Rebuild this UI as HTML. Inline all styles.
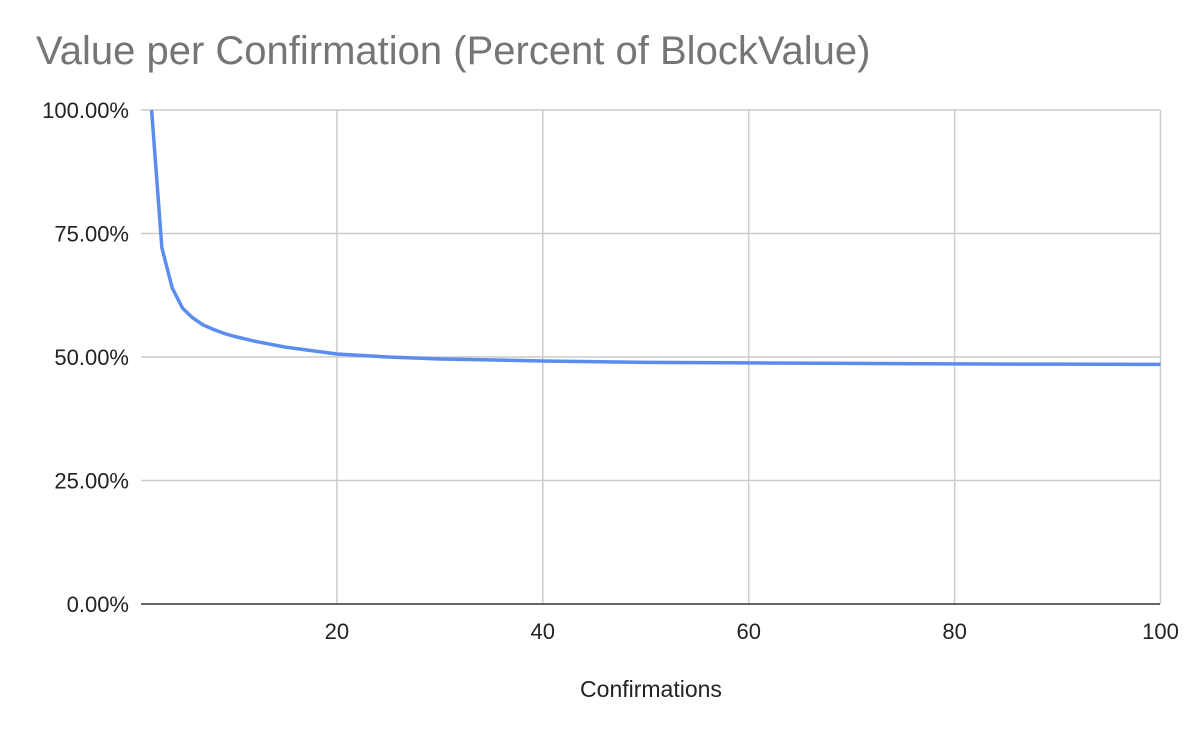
<!DOCTYPE html>
<html><head><meta charset="utf-8"><style>
body{margin:0;background:#fff;width:1192px;height:734px;overflow:hidden;font-family:"Liberation Sans",Arial,sans-serif}
</style></head><body>
<svg width="1192" height="734">
<text x="36" y="64" font-size="40" fill="#757575">Value per Confirmation (Percent of BlockValue)</text>
<g id="grid"></g><g id="axes"></g>
<path id="line" fill="none" stroke="#5b8def" stroke-width="3.5" stroke-linejoin="round"/>
<text x="651" y="697" font-size="23" text-anchor="middle" fill="#222">Confirmations</text>
</svg>
<script>
const xs=[2,3,4,5,6,7,8,9,10,12,15,20,25,30,40,50,60,70,80,90,100];
const ys=[100,72.1,64.0,59.9,57.9,56.5,55.6,54.8,54.2,53.2,52.0,50.6,50.0,49.6,49.2,48.9,48.8,48.7,48.6,48.55,48.5];
const yTicks=[0,25,50,75,100];
const xTicks=[20,40,60,80,100];
const X=v=>131+(v)*10.295, Y=v=>604-v*4.94;
const ns="http://www.w3.org/2000/svg";
const g=document.getElementById('grid');
function el(t,a,p){const e=document.createElementNS(ns,t);for(const k in a)e.setAttribute(k,a[k]);p.appendChild(e);return e;}
yTicks.forEach(t=>{
 if(t>0){const l=el('line',{x1:141,x2:1160,y1:Y(t),y2:Y(t),stroke:'#ccc','stroke-width':1.5},g);
 
 }
 const tx=el('text',{x:129,y:Y(t)+8,'font-size':22,'text-anchor':'end',fill:'#222'},g);tx.textContent=t.toFixed(2)+'%';
 
 
});
xTicks.forEach(t=>{
 const l=el('line',{x1:X(t),x2:X(t),y1:110,y2:604,stroke:'#ccc','stroke-width':1.5},g);
 
 
 const tx=el('text',{x:X(t),y:639,'font-size':22,'text-anchor':'middle',fill:'#222'},g);tx.textContent=t;
 
 
});
const ax=el('line',{x1:141,x2:1160,y1:604,y2:604,stroke:'#333','stroke-width':1.5},document.getElementById('axes'));


document.getElementById('line').setAttribute('d',xs.map((x,i)=>(i?'L':'M')+X(x)+','+Y(ys[i])).join(''));
</script>
</body></html>
